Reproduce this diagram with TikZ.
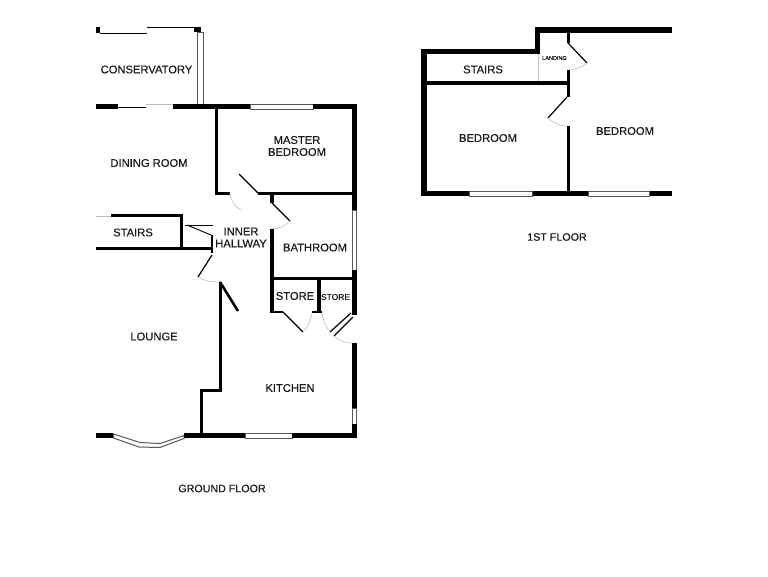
\documentclass[tikz,border=0pt]{standalone}
\usepackage{fontspec}
\setmainfont[FakeBold=0.25]{Liberation Sans}
\definecolor{ghost}{gray}{0.75}
\definecolor{winedge}{gray}{0.35}
\tikzset{
  wall/.style={fill=black,draw=none},
  glass/.style={fill=white,draw=winedge,line width=0.8pt},
  leaf/.style={draw=black,line width=1.2pt},
  swing/.style={draw=ghost,line width=0.6pt},
  slim/.style={draw=black,line width=0.9pt},
  pale/.style={draw=ghost,line width=0.6pt},
  room/.style={font=\fontsize{11.2}{12}\selectfont,color=black!90,align=center,inner sep=0pt},
}
\begin{document}
\begin{tikzpicture}[x=1pt,y=-1pt]
\useasboundingbox (0,0) rectangle (768,576);
\fill[white] (0,0) rectangle (768,576);
% conservatory
\fill[wall] (96,27) rectangle (100,33);
\draw[slim] (100,33.5) -- (147,33.5);
\draw[slim] (147,27) -- (201,27);
\fill[wall] (194,27) rectangle (201,32);
\draw[glass] (197.5,32) rectangle (203.5,105);
% ground floor top
\fill[wall] (96,104) rectangle (118,109);
\draw[slim] (118,107.5) -- (146,107.5);
\draw[pale] (146,104) -- (173,104);
\fill[wall] (173,104) rectangle (250,109);
\draw[glass] (250,104.5) rectangle (313,109);
\fill[wall] (313,104) rectangle (357,109);
% right wall
\fill[wall] (352,104) rectangle (357,210);
\draw[glass] (352.5,210) rectangle (356.5,270);
\fill[wall] (352,270) rectangle (357,315);
\fill[wall] (352,343) rectangle (357,408);
\draw[glass] (352.5,408) rectangle (356.5,424);
\fill[wall] (352,424) rectangle (357,438);
% bottom wall
\fill[wall] (96,433) rectangle (113,438);
\draw[glass,line width=1pt] (113.5,434) -- (140,442.5) -- (160,443.5) -- (184,435.5) -- (184,438.5) -- (160,447.5) -- (139,447) -- (113.5,438) -- cycle;
\fill[wall] (184,433) rectangle (245,438);
\draw[glass] (245,433.5) rectangle (292,438);
\fill[wall] (292,433) rectangle (357,438);
% master bedroom
\fill[wall] (214.5,109) rectangle (218,195);
\fill[wall] (214.5,192) rectangle (230,195);
\draw[leaf] (239,174) -- (258,193);
\draw[swing] (230,192) arc[start angle=180,end angle=116,radius=20];
\fill[wall] (258,192) rectangle (357,195);
% bathroom
\fill[wall] (270,195) rectangle (273.5,203);
\draw[leaf] (272,203) -- (290,221);
\draw[swing] (290,221) .. controls (285,226) and (279,229) .. (272,229);
\fill[wall] (270,229) rectangle (273.5,313);
\fill[wall] (270,277) rectangle (357,280);
% stores
\fill[wall] (317,280) rectangle (321,313);
\fill[wall] (270,310.5) rectangle (283,313);
\draw[leaf] (283,312) -- (303,332);
\draw[swing] (303,332) .. controls (308,327) and (311,320) .. (312,313);
\fill[wall] (312,310.5) rectangle (322,313);
\draw[swing] (322,313) .. controls (323,320) and (326,327) .. (330,332);
\draw[leaf] (330,332) -- (351,313);
\draw[leaf] (334,336) -- (353,317);
\draw[swing] (334,336) .. controls (339,341) and (345,343) .. (352,343);
% stairs, ground
\draw[pale] (96,216) -- (111,216);
\fill[wall] (111,214) rectangle (183,217);
\fill[wall] (180,214) rectangle (183,249);
\fill[wall] (96,246.5) rectangle (213,249.5);
\fill[wall] (210.5,235) rectangle (213,253);
\draw[line width=0.9pt] (185,225) -- (213,225);
\draw[line width=0.9pt] (187,225) -- (211,235);
\draw[leaf] (212,255) -- (198,277);
\draw[swing] (198,277) .. controls (204,281) and (212,282) .. (220,282);
% lounge / kitchen wall
\fill[wall] (219,282) rectangle (222,392);
\draw[black,line width=2.6pt] (220,282) -- (238,311);
\fill[wall] (200,389) rectangle (222,392);
\fill[wall] (200,389) rectangle (203,434);
% first floor
\fill[wall] (421,49) rectangle (427,196);
\fill[wall] (421,49) rectangle (540,54);
\fill[wall] (535,27) rectangle (540,54);
\fill[wall] (535,27) rectangle (672,33);
\fill[wall] (566.5,33) rectangle (569.5,43);
\draw[leaf] (568,43) -- (587,63);
\draw[swing] (587,63) .. controls (582,67) and (575,70) .. (568,70);
\fill[wall] (566.5,70) rectangle (570,97);
\fill[wall] (427,81) rectangle (567,85);
\draw[pale] (538,54) -- (538,81);
\draw[leaf] (567,97) -- (548,118);
\draw[swing] (548,118) .. controls (553,123) and (560,126) .. (567,126);
\fill[wall] (566.5,126) rectangle (570,192);
\fill[wall] (421,191) rectangle (672,196);
\draw[glass] (469,191.5) rectangle (532,196);
\draw[glass] (588,191.5) rectangle (649,196);
% labels
\node[room] (conservatory) at (146.5,69.5) {CONSERVATORY};
\node[room] (dining) at (149,163) {DINING ROOM};
\node[room] (master) at (297,146) {MASTER\\BEDROOM};
\node[room] (stairsg) at (133,232.5) {STAIRS};
\node[room] (hallway) at (241,237.5) {INNER\\HALLWAY};
\node[room] (bathroom) at (315,247.5) {BATHROOM};
\node[room] (storea) at (295,296) {STORE};
\node[room,font=\fontsize{8.5}{10}\selectfont] (storeb) at (335.5,297) {STORE};
\node[room] (lounge) at (154,336.5) {LOUNGE};
\node[room] (kitchen) at (290,388) {KITCHEN};
\node[room,font=\fontsize{10.7}{12}\selectfont] (groundlabel) at (222,488.5) {GROUND FLOOR};
\node[room] (stairsf) at (483,69.5) {STAIRS};
\node[room,font=\fontsize{5.5}{7}\selectfont] (landing) at (554.5,58) {LANDING};
\node[room] (beda) at (488,138) {BEDROOM};
\node[room] (bedb) at (625,131) {BEDROOM};
\node[room,font=\fontsize{10.7}{12}\selectfont] (firstlabel) at (557,237) {1ST FLOOR};
\end{tikzpicture}
\end{document}
